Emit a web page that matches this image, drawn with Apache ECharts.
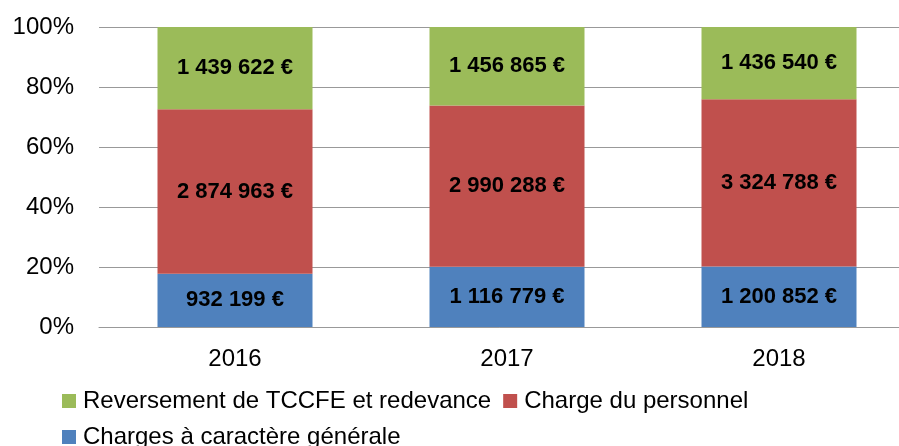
<!DOCTYPE html>
<html>
<head>
<meta charset="utf-8">
<script src="https://cdn.jsdelivr.net/npm/echarts@6/dist/echarts.min.js"></script>
<style>
html,body{margin:0;padding:0;background:#fff;}
#chart{width:899px;height:446px;}
</style>
</head>
<body>
<div id="chart"></div>
<script>
const years = ['2016', '2017', '2018'];
const generales = [932199, 1116779, 1200852];
const personnel = [2874963, 2990288, 3324788];
const reversement = [1439622, 1456865, 1436540];
const yTicks = [0, 20, 40, 60, 80, 100];

const names = ['Charges à caractère générale', 'Charge du personnel', 'Reversement de TCCFE et redevance'];
const colors = ['#4F81BD', '#C0504D', '#9BBB59'];
const raws = [generales, personnel, reversement];
const totals = years.map((_, i) => generales[i] + personnel[i] + reversement[i]);

function fmt(v) {
  return String(v).replace(/\B(?=(\d{3})+(?!\d))/g, ' ') + ' €';
}

const FONT = 'Liberation Sans';
const chart = echarts.init(document.getElementById('chart'), null, {renderer: 'canvas'});
chart.setOption({
  animation: false,
  textStyle: {fontFamily: FONT},
  grid: {left: 99, top: 27, width: 816, height: 300, outerBoundsMode: 'none', containLabel: false},
  legend: {
    left: 62, top: 389, padding: 0,
    itemWidth: 14, itemHeight: 14, itemGap: 12,
    icon: 'rect',
    data: [names[2], names[1], names[0]],
    textStyle: {fontFamily: FONT, fontSize: 24, color: '#000', lineHeight: 22, padding: [0, 0, 0, 2]}
  },
  xAxis: {
    type: 'category', data: years,
    axisLine: {show: true, lineStyle: {color: '#999', width: 1}},
    axisTick: {show: false},
    axisLabel: {fontFamily: FONT, fontSize: 24, color: '#000', margin: 20}
  },
  yAxis: {
    type: 'value', min: 0, max: 100, interval: 20,
    axisLine: {show: false}, axisTick: {show: false},
    splitLine: {lineStyle: {color: '#999', width: 1}},
    axisLabel: {fontFamily: FONT, fontSize: 24, color: '#000', margin: 25,
      formatter: v => yTicks.includes(v) ? v + '%' : ''}
  },
  series: names.map((n, k) => ({
    name: n, type: 'bar', stack: 'total', barWidth: 155,
    itemStyle: {color: colors[k]},
    label: {
      show: true, position: 'inside', fontFamily: FONT, fontSize: 22, fontWeight: 'bold', color: '#000',
      formatter: p => fmt(raws[k][p.dataIndex])
    },
    data: raws[k].map((v, i) => v / totals[i] * 100)
  }))
});
</script>
</body>
</html>
